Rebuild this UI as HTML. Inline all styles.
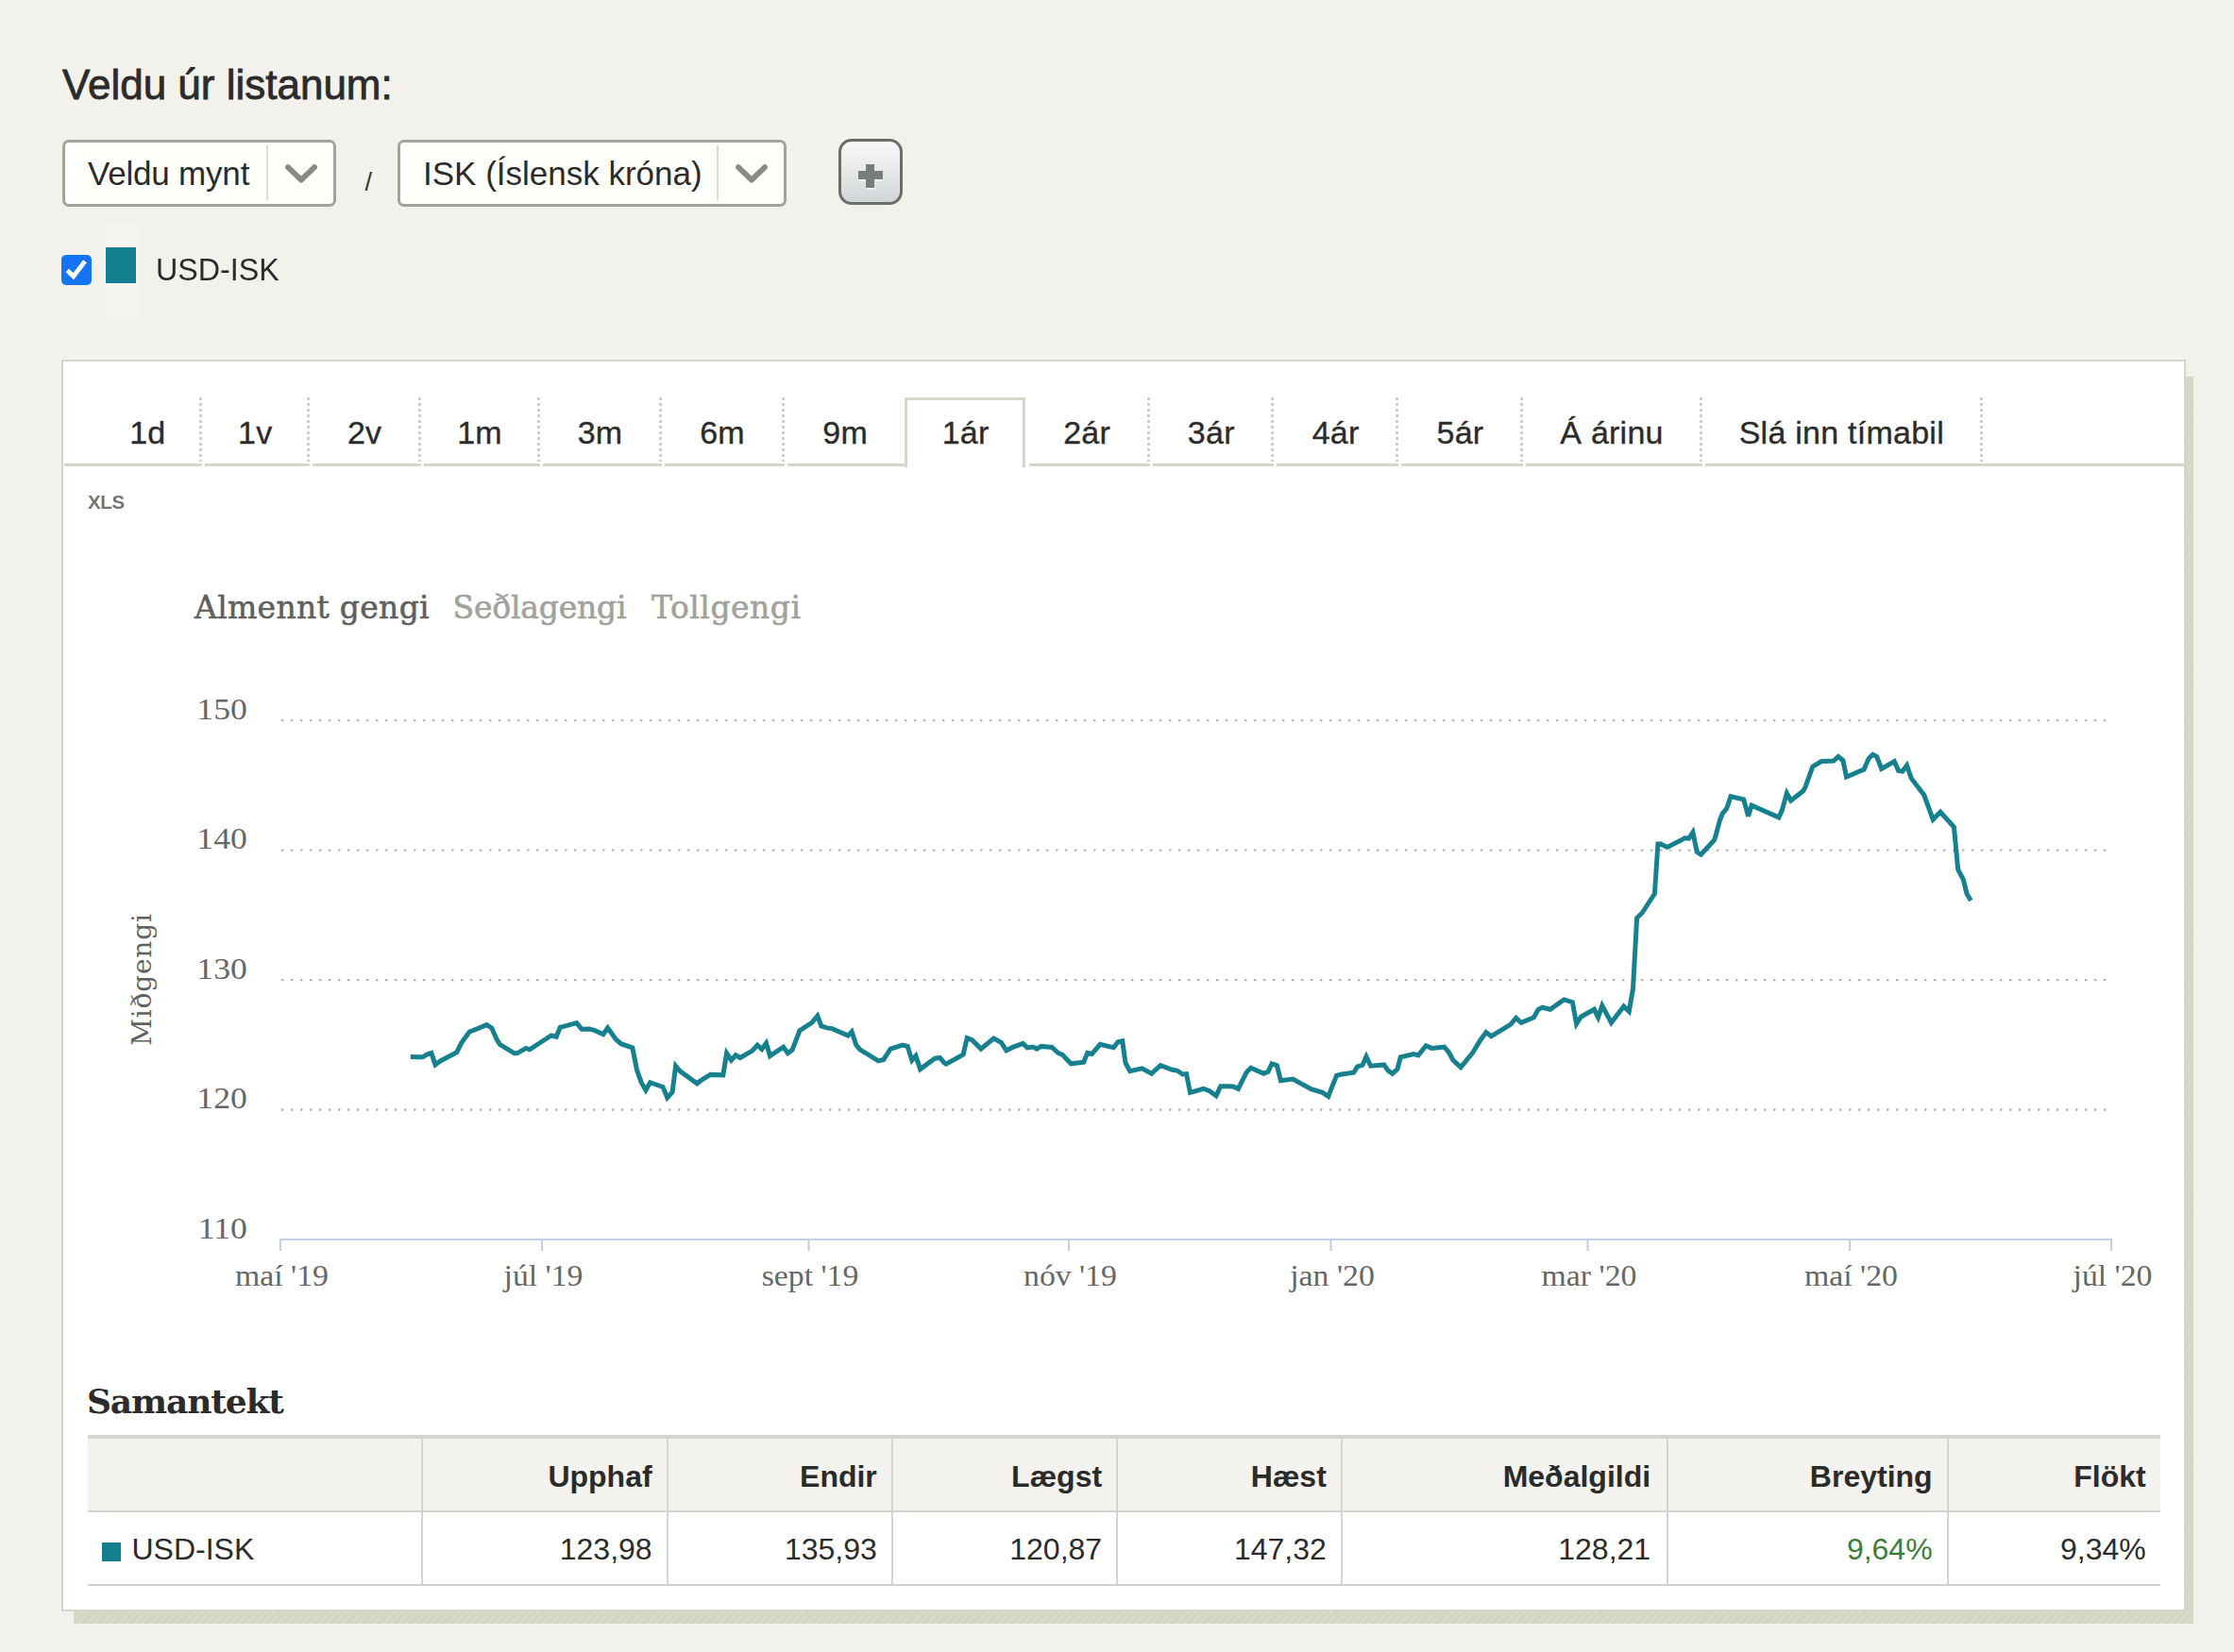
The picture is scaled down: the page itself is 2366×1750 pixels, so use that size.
<!DOCTYPE html>
<html lang="is"><head><meta charset="utf-8"><title>Gengi gjaldmiðla</title>
<style>
html,body{margin:0;padding:0;}
body{width:2366px;height:1750px;overflow:hidden;background:#f2f1ec;position:relative;}
.t{position:absolute;white-space:nowrap;margin:0;}
.b{position:absolute;}
</style></head><body>
<h2 class="t" style="top:67.75px;font-size:44px;line-height:44px;font-family:'Liberation Sans', Arial, sans-serif;font-weight:400;color:#2b2b2b;left:66px;-webkit-text-stroke:0.8px #2b2b2b;">Veldu úr listanum:</h2>
<div class="b" style="left:65.5px;top:147.5px;width:290px;height:71px;box-sizing:border-box;border:3px solid #a3a39b;border-radius:7px;background:#fffffb;"></div>
<div class="b" style="left:282.3px;top:154px;width:2px;height:58px;background:#dcdcd8;"></div>
<div class="t" style="top:166.37px;font-size:35px;line-height:35px;font-family:'Liberation Sans', Arial, sans-serif;font-weight:400;color:#2b2b2b;letter-spacing:-0.2px;left:93px;">Veldu mynt</div>
<div class="b" style="left:420.5px;top:147.5px;width:412px;height:71px;box-sizing:border-box;border:3px solid #a3a39b;border-radius:7px;background:#fffffb;"></div>
<div class="b" style="left:759.2px;top:154px;width:2px;height:58px;background:#dcdcd8;"></div>
<div class="t" style="top:166.37px;font-size:35px;line-height:35px;font-family:'Liberation Sans', Arial, sans-serif;font-weight:400;color:#2b2b2b;left:448px;">ISK (Íslensk króna)</div>
<svg class="b" style="left:299.4px;top:165px" width="40" height="40" viewBox="0 0 40 40"><path d="M6 12.1 L20 25.7 L34 12.1" fill="none" stroke="#8a8985" stroke-width="5.8" stroke-linejoin="round" stroke-linecap="round" style="filter:blur(0.5px)"/></svg>
<svg class="b" style="left:776.2px;top:165px" width="40" height="40" viewBox="0 0 40 40"><path d="M6 12.1 L20 25.7 L34 12.1" fill="none" stroke="#8a8985" stroke-width="5.8" stroke-linejoin="round" stroke-linecap="round" style="filter:blur(0.5px)"/></svg>
<div class="t" style="top:180.14px;font-size:27px;line-height:27px;font-family:'Liberation Sans', Arial, sans-serif;font-weight:400;color:#333;left:386.5px;">/</div>
<div class="b" style="left:888px;top:147px;width:68px;height:70px;box-sizing:border-box;border:3px solid #6c6c68;border-radius:14px;background:linear-gradient(#f6f7f8,#e6e8e9 50%,#d2d5d7);"></div>
<div class="b" style="left:909px;top:181.3px;width:25.5px;height:9px;background:#797c7c;box-shadow:0 1.5px 0 rgba(255,255,255,.85);"></div>
<div class="b" style="left:917.3px;top:173.5px;width:9px;height:25px;background:#797c7c;box-shadow:0 1.5px 0 rgba(255,255,255,.85);"></div>
<svg class="b" style="left:65px;top:270px" width="32" height="32" viewBox="0 0 32 32"><rect x="0" y="0" width="32" height="32" rx="5" fill="#1574f4"/><path d="M6.3 16.4 L12.8 22.6 L25 6.8" fill="none" stroke="#fff" stroke-width="4.8"/></svg>
<div class="b" style="left:112px;top:238px;width:37px;height:98px;background:#f5f4f0;"></div>
<div class="b" style="left:112px;top:262px;width:32px;height:38px;background:#12808f;"></div>
<div class="t" style="top:268.21px;font-size:34px;line-height:34px;font-family:'Liberation Sans', Arial, sans-serif;font-weight:400;color:#2b2b2b;left:164.5px;transform:scaleX(0.948);transform-origin:0 0;">USD-ISK</div>
<div class="b" style="left:78.2px;top:399.3px;width:2244.6px;height:1320.6px;background:repeating-linear-gradient(135deg,#d9d9c7 0 3px,#d4d4c2 3px 6px);"></div>
<div class="b" style="left:65.2px;top:381.2px;width:2249.6px;height:1325.5px;box-sizing:border-box;border-style:solid;border-color:#d4d6ca;border-width:2.6px 2px 2px 2.6px;background:#fff;"></div>
<div class="b" style="left:68px;top:491.2px;width:145.8px;height:3px;background:#d6d6cc;"></div>
<div class="b" style="left:216.8px;top:491.2px;width:111.1px;height:3px;background:#d6d6cc;"></div>
<div class="b" style="left:330.9px;top:491.2px;width:114.8px;height:3px;background:#d6d6cc;"></div>
<div class="b" style="left:448.7px;top:491.2px;width:123.0px;height:3px;background:#d6d6cc;"></div>
<div class="b" style="left:574.7px;top:491.2px;width:126.0px;height:3px;background:#d6d6cc;"></div>
<div class="b" style="left:703.7px;top:491.2px;width:127.1px;height:3px;background:#d6d6cc;"></div>
<div class="b" style="left:833.8px;top:491.2px;width:124.2px;height:3px;background:#d6d6cc;"></div>
<div class="b" style="left:1090px;top:491.2px;width:127.7px;height:3px;background:#d6d6cc;"></div>
<div class="b" style="left:1220.7px;top:491.2px;width:128.5px;height:3px;background:#d6d6cc;"></div>
<div class="b" style="left:1352.2px;top:491.2px;width:129.2px;height:3px;background:#d6d6cc;"></div>
<div class="b" style="left:1484.4px;top:491.2px;width:128.6px;height:3px;background:#d6d6cc;"></div>
<div class="b" style="left:1616.0px;top:491.2px;width:186.5px;height:3px;background:#d6d6cc;"></div>
<div class="b" style="left:1805.5px;top:491.2px;width:507.5px;height:3px;background:#d6d6cc;"></div>
<div class="b" style="left:210.8px;top:421px;width:3px;height:68px;background:repeating-linear-gradient(#cfcfc6 0 3px, transparent 3px 6px);"></div>
<div class="b" style="left:324.9px;top:421px;width:3px;height:68px;background:repeating-linear-gradient(#cfcfc6 0 3px, transparent 3px 6px);"></div>
<div class="b" style="left:442.7px;top:421px;width:3px;height:68px;background:repeating-linear-gradient(#cfcfc6 0 3px, transparent 3px 6px);"></div>
<div class="b" style="left:568.7px;top:421px;width:3px;height:68px;background:repeating-linear-gradient(#cfcfc6 0 3px, transparent 3px 6px);"></div>
<div class="b" style="left:697.7px;top:421px;width:3px;height:68px;background:repeating-linear-gradient(#cfcfc6 0 3px, transparent 3px 6px);"></div>
<div class="b" style="left:827.8px;top:421px;width:3px;height:68px;background:repeating-linear-gradient(#cfcfc6 0 3px, transparent 3px 6px);"></div>
<div class="b" style="left:1214.7px;top:421px;width:3px;height:68px;background:repeating-linear-gradient(#cfcfc6 0 3px, transparent 3px 6px);"></div>
<div class="b" style="left:1346.2px;top:421px;width:3px;height:68px;background:repeating-linear-gradient(#cfcfc6 0 3px, transparent 3px 6px);"></div>
<div class="b" style="left:1478.4px;top:421px;width:3px;height:68px;background:repeating-linear-gradient(#cfcfc6 0 3px, transparent 3px 6px);"></div>
<div class="b" style="left:1610.0px;top:421px;width:3px;height:68px;background:repeating-linear-gradient(#cfcfc6 0 3px, transparent 3px 6px);"></div>
<div class="b" style="left:1799.5px;top:421px;width:3px;height:68px;background:repeating-linear-gradient(#cfcfc6 0 3px, transparent 3px 6px);"></div>
<div class="b" style="left:2096.5px;top:421px;width:3px;height:68px;background:repeating-linear-gradient(#cfcfc6 0 3px, transparent 3px 6px);"></div>
<div class="b" style="left:957.8px;top:420.5px;width:128.2px;height:74px;box-sizing:border-box;border:3px solid #d6d6cc;border-bottom:none;background:#fff;"></div>
<div class="t" style="top:441.21px;font-size:34px;line-height:34px;font-family:'Liberation Sans', Arial, sans-serif;font-weight:400;color:#2b2b2b;letter-spacing:0.25px;left:156.3px;transform:translateX(-50%);-webkit-text-stroke:0.35px #2b2b2b;">1d</div>
<div class="t" style="top:441.21px;font-size:34px;line-height:34px;font-family:'Liberation Sans', Arial, sans-serif;font-weight:400;color:#2b2b2b;letter-spacing:0.25px;left:270.2px;transform:translateX(-50%);-webkit-text-stroke:0.35px #2b2b2b;">1v</div>
<div class="t" style="top:441.21px;font-size:34px;line-height:34px;font-family:'Liberation Sans', Arial, sans-serif;font-weight:400;color:#2b2b2b;letter-spacing:0.25px;left:386.1px;transform:translateX(-50%);-webkit-text-stroke:0.35px #2b2b2b;">2v</div>
<div class="t" style="top:441.21px;font-size:34px;line-height:34px;font-family:'Liberation Sans', Arial, sans-serif;font-weight:400;color:#2b2b2b;letter-spacing:0.25px;left:508.0px;transform:translateX(-50%);-webkit-text-stroke:0.35px #2b2b2b;">1m</div>
<div class="t" style="top:441.21px;font-size:34px;line-height:34px;font-family:'Liberation Sans', Arial, sans-serif;font-weight:400;color:#2b2b2b;letter-spacing:0.25px;left:635.5px;transform:translateX(-50%);-webkit-text-stroke:0.35px #2b2b2b;">3m</div>
<div class="t" style="top:441.21px;font-size:34px;line-height:34px;font-family:'Liberation Sans', Arial, sans-serif;font-weight:400;color:#2b2b2b;letter-spacing:0.25px;left:765.0px;transform:translateX(-50%);-webkit-text-stroke:0.35px #2b2b2b;">6m</div>
<div class="t" style="top:441.21px;font-size:34px;line-height:34px;font-family:'Liberation Sans', Arial, sans-serif;font-weight:400;color:#2b2b2b;letter-spacing:0.25px;left:895.1px;transform:translateX(-50%);-webkit-text-stroke:0.35px #2b2b2b;">9m</div>
<div class="t" style="top:441.21px;font-size:34px;line-height:34px;font-family:'Liberation Sans', Arial, sans-serif;font-weight:400;color:#2b2b2b;letter-spacing:0.25px;left:1022.6px;transform:translateX(-50%);-webkit-text-stroke:0.35px #2b2b2b;">1ár</div>
<div class="t" style="top:441.21px;font-size:34px;line-height:34px;font-family:'Liberation Sans', Arial, sans-serif;font-weight:400;color:#2b2b2b;letter-spacing:0.25px;left:1151.1px;transform:translateX(-50%);-webkit-text-stroke:0.35px #2b2b2b;">2ár</div>
<div class="t" style="top:441.21px;font-size:34px;line-height:34px;font-family:'Liberation Sans', Arial, sans-serif;font-weight:400;color:#2b2b2b;letter-spacing:0.25px;left:1282.8px;transform:translateX(-50%);-webkit-text-stroke:0.35px #2b2b2b;">3ár</div>
<div class="t" style="top:441.21px;font-size:34px;line-height:34px;font-family:'Liberation Sans', Arial, sans-serif;font-weight:400;color:#2b2b2b;letter-spacing:0.25px;left:1414.6px;transform:translateX(-50%);-webkit-text-stroke:0.35px #2b2b2b;">4ár</div>
<div class="t" style="top:441.21px;font-size:34px;line-height:34px;font-family:'Liberation Sans', Arial, sans-serif;font-weight:400;color:#2b2b2b;letter-spacing:0.25px;left:1546.5px;transform:translateX(-50%);-webkit-text-stroke:0.35px #2b2b2b;">5ár</div>
<div class="t" style="top:441.21px;font-size:34px;line-height:34px;font-family:'Liberation Sans', Arial, sans-serif;font-weight:400;color:#2b2b2b;letter-spacing:0.25px;left:1707.0px;transform:translateX(-50%);-webkit-text-stroke:0.35px #2b2b2b;">Á árinu</div>
<div class="t" style="top:441.21px;font-size:34px;line-height:34px;font-family:'Liberation Sans', Arial, sans-serif;font-weight:400;color:#2b2b2b;letter-spacing:0.25px;left:1950.3px;transform:translateX(-50%);-webkit-text-stroke:0.35px #2b2b2b;">Slá inn tímabil</div>
<div class="t" style="top:521.64px;font-size:20.5px;line-height:20.5px;font-family:'Liberation Sans', Arial, sans-serif;font-weight:700;color:#75756e;letter-spacing:-0.3px;left:93px;filter:blur(0.5px);">XLS</div>
<svg class="b" style="left:0;top:0" width="2366" height="1750" viewBox="0 0 2366 1750">
<line x1="298.1" y1="763.2" x2="2236" y2="763.2" stroke="#b3b3b3" stroke-width="2.3" stroke-dasharray="2.3 7.7"/>
<line x1="298.1" y1="900.7" x2="2236" y2="900.7" stroke="#b3b3b3" stroke-width="2.3" stroke-dasharray="2.3 7.7"/>
<line x1="298.1" y1="1038.1" x2="2236" y2="1038.1" stroke="#b3b3b3" stroke-width="2.3" stroke-dasharray="2.3 7.7"/>
<line x1="298.1" y1="1175.5" x2="2236" y2="1175.5" stroke="#b3b3b3" stroke-width="2.3" stroke-dasharray="2.3 7.7"/>
<line x1="296" y1="1313" x2="2237" y2="1313" stroke="#c3d0e3" stroke-width="2.2"/>
<line x1="297" y1="1313" x2="297" y2="1325" stroke="#c3d0e3" stroke-width="2.2"/>
<line x1="574" y1="1313" x2="574" y2="1325" stroke="#c3d0e3" stroke-width="2.2"/>
<line x1="856.5" y1="1313" x2="856.5" y2="1325" stroke="#c3d0e3" stroke-width="2.2"/>
<line x1="1132" y1="1313" x2="1132" y2="1325" stroke="#c3d0e3" stroke-width="2.2"/>
<line x1="1409.5" y1="1313" x2="1409.5" y2="1325" stroke="#c3d0e3" stroke-width="2.2"/>
<line x1="1681.5" y1="1313" x2="1681.5" y2="1325" stroke="#c3d0e3" stroke-width="2.2"/>
<line x1="1959" y1="1313" x2="1959" y2="1325" stroke="#c3d0e3" stroke-width="2.2"/>
<line x1="2236" y1="1313" x2="2236" y2="1325" stroke="#c3d0e3" stroke-width="2.2"/>
<text transform="translate(298.5,1361.6) scale(1.09,1)" text-anchor="middle" font-family="Liberation Serif, serif" font-size="31" fill="#666">maí '19</text>
<text transform="translate(575.5,1361.6) scale(1.09,1)" text-anchor="middle" font-family="Liberation Serif, serif" font-size="31" fill="#666">júl '19</text>
<text transform="translate(858.0,1361.6) scale(1.09,1)" text-anchor="middle" font-family="Liberation Serif, serif" font-size="31" fill="#666">sept '19</text>
<text transform="translate(1133.5,1361.6) scale(1.09,1)" text-anchor="middle" font-family="Liberation Serif, serif" font-size="31" fill="#666">nóv '19</text>
<text transform="translate(1411.0,1361.6) scale(1.09,1)" text-anchor="middle" font-family="Liberation Serif, serif" font-size="31" fill="#666">jan '20</text>
<text transform="translate(1683.0,1361.6) scale(1.09,1)" text-anchor="middle" font-family="Liberation Serif, serif" font-size="31" fill="#666">mar '20</text>
<text transform="translate(1960.5,1361.6) scale(1.09,1)" text-anchor="middle" font-family="Liberation Serif, serif" font-size="31" fill="#666">maí '20</text>
<text transform="translate(2237.5,1361.6) scale(1.09,1)" text-anchor="middle" font-family="Liberation Serif, serif" font-size="31" fill="#666">júl '20</text>
<text transform="translate(261.8,761.7) scale(1.15,1)" text-anchor="end" font-family="Liberation Serif, serif" font-size="31" fill="#666">150</text>
<text transform="translate(261.8,899.2) scale(1.15,1)" text-anchor="end" font-family="Liberation Serif, serif" font-size="31" fill="#666">140</text>
<text transform="translate(261.8,1036.6) scale(1.15,1)" text-anchor="end" font-family="Liberation Serif, serif" font-size="31" fill="#666">130</text>
<text transform="translate(261.8,1174.0) scale(1.15,1)" text-anchor="end" font-family="Liberation Serif, serif" font-size="31" fill="#666">120</text>
<text transform="translate(261.8,1311.5) scale(1.15,1)" text-anchor="end" font-family="Liberation Serif, serif" font-size="31" fill="#666">110</text>
<text transform="translate(159.6,1037.5) rotate(-90)" text-anchor="middle" font-family="DejaVu Serif, serif" font-size="28" letter-spacing="0.8" fill="#616161">Miðgengi</text>
<text x="206" y="654.8" font-family="DejaVu Serif, serif" font-size="33" letter-spacing="0.3" fill="#5f6060" font-weight="400" stroke="#5f6060" stroke-width="0.6">Almennt gengi</text>
<text x="479.5" y="654.8" font-family="DejaVu Serif, serif" font-size="33" letter-spacing="-0.2" fill="#a2a29c" stroke="#a2a29c" stroke-width="0.6">Seðlagengi</text>
<text x="690" y="654.8" font-family="DejaVu Serif, serif" font-size="33" letter-spacing="0.5" fill="#a2a29c" stroke="#a2a29c" stroke-width="0.6">Tollgengi</text>
<path d="M434.8 1119.6 L441.5 1119.8 L447.5 1119.8 L452.2 1117.1 L456.9 1115.4 L461.0 1127.9 L466.3 1123.9 L472.4 1120.8 L483.8 1114.7 L488.5 1105.1 L497.2 1093.0 L505.9 1089.6 L515.3 1085.6 L520.7 1088.9 L526.1 1101.0 L529.4 1106.4 L544.9 1115.8 L547.6 1115.8 L557.0 1110.4 L561.0 1111.8 L574.4 1103.0 L583.8 1097.0 L589.2 1098.3 L593.2 1088.3 L598.6 1086.9 L610.7 1083.6 L616.1 1090.3 L624.1 1090.0 L629.5 1091.4 L638.9 1095.7 L643.6 1088.9 L652.3 1101.0 L657.7 1105.7 L669.8 1109.8 L674.5 1133.3 L679.2 1146.7 L683.9 1154.7 L688.6 1146.7 L702.0 1151.4 L706.7 1162.8 L712.1 1156.8 L715.6 1129.2 L720.1 1134.6 L738.3 1147.8 L743.0 1144.0 L752.4 1138.4 L765.8 1138.9 L769.6 1115.8 L774.5 1123.2 L779.2 1117.8 L783.9 1120.5 L796.7 1113.1 L802.1 1107.1 L806.8 1111.5 L811.5 1105.1 L815.5 1118.5 L829.6 1109.1 L834.3 1115.8 L839.0 1112.4 L847.0 1091.6 L859.8 1083.3 L865.8 1076.2 L869.9 1086.9 L875.9 1088.9 L881.3 1089.6 L898.1 1097.0 L902.1 1093.0 L906.8 1107.1 L910.8 1111.8 L930.3 1123.9 L935.7 1122.5 L943.1 1111.1 L955.8 1107.1 L961.2 1108.4 L965.9 1123.2 L969.9 1118.5 L974.6 1132.6 L990.1 1121.2 L995.4 1120.5 L1000.0 1125.9 L1002.0 1127.2 L1020.1 1117.1 L1024.2 1099.7 L1029.5 1101.7 L1038.9 1111.1 L1052.4 1100.0 L1060.4 1104.4 L1065.8 1112.8 L1072.5 1109.4 L1083.3 1105.3 L1088.0 1109.8 L1094.0 1109.1 L1098.0 1111.1 L1102.7 1108.4 L1114.1 1109.4 L1120.9 1115.5 L1124.9 1117.1 L1134.3 1126.8 L1147.7 1125.2 L1151.7 1115.4 L1156.4 1116.5 L1165.2 1106.4 L1179.3 1109.8 L1184.0 1103.7 L1188.7 1102.8 L1192.0 1125.9 L1196.7 1134.6 L1209.5 1131.9 L1219.6 1137.3 L1229.0 1128.6 L1241.7 1133.3 L1247.1 1134.3 L1252.5 1138.0 L1256.5 1137.6 L1260.5 1157.4 L1274.6 1153.4 L1280.6 1155.4 L1288.0 1160.8 L1292.7 1150.7 L1300.0 1150.7 L1306.0 1151.0 L1311.4 1153.4 L1320.1 1135.9 L1324.8 1131.2 L1338.3 1137.3 L1343.0 1135.3 L1347.0 1126.8 L1352.4 1128.6 L1356.4 1144.7 L1369.2 1143.1 L1388.6 1153.7 L1400.7 1157.4 L1406.8 1161.5 L1415.5 1139.3 L1420.9 1138.0 L1433.6 1136.3 L1437.6 1129.9 L1443.0 1128.3 L1447.0 1119.2 L1451.7 1129.2 L1465.8 1127.9 L1469.9 1133.9 L1474.6 1137.3 L1479.9 1132.6 L1483.3 1119.8 L1497.4 1116.5 L1502.1 1117.8 L1510.2 1107.7 L1516.2 1110.4 L1529.6 1109.1 L1534.3 1114.5 L1539.0 1123.2 L1547.1 1130.6 L1559.8 1115.1 L1567.9 1101.7 L1573.9 1093.6 L1579.3 1097.7 L1592.7 1089.6 L1600.0 1085.0 L1605.6 1078.4 L1611.1 1083.3 L1624.4 1077.7 L1629.2 1069.3 L1633.4 1067.2 L1641.8 1069.3 L1656.4 1058.9 L1665.4 1061.7 L1669.6 1084.6 L1674.5 1077.0 L1688.4 1069.3 L1692.6 1077.7 L1696.8 1065.2 L1706.5 1083.3 L1719.7 1065.9 L1725.3 1071.4 L1729.5 1047.1 L1733.6 972.6 L1739.2 967.0 L1752.4 946.8 L1755.9 893.9 L1758.7 893.9 L1765.7 897.4 L1780.0 890.3 L1784.3 887.7 L1788.6 888.1 L1792.9 881.7 L1797.2 902.5 L1801.5 905.3 L1815.8 889.6 L1821.5 868.8 L1824.4 861.6 L1828.7 856.6 L1833.0 843.7 L1846.6 846.9 L1851.6 864.5 L1855.2 853.1 L1883.9 865.9 L1887.4 858.1 L1892.4 840.2 L1896.7 848.0 L1909.6 838.0 L1911.8 834.4 L1919.7 812.2 L1929.0 806.5 L1941.9 806.1 L1946.9 801.5 L1951.9 805.5 L1955.5 823.0 L1974.1 815.1 L1979.1 803.6 L1983.4 799.3 L1987.7 801.5 L1992.7 814.4 L2006.3 806.5 L2010.6 816.5 L2014.9 817.0 L2019.5 810.8 L2024.2 824.4 L2037.8 842.3 L2047.2 868.1 L2055.0 860.2 L2069.4 876.0 L2073.7 921.1 L2079.4 931.8 L2083.0 946.9 L2087.3 954.0" fill="none" stroke="#16808f" stroke-width="5" stroke-linejoin="miter" stroke-miterlimit="3" stroke-linecap="butt"/>
</svg>
<h3 class="t" style="top:1466.04px;font-size:36px;line-height:36px;font-family:'DejaVu Serif', serif;font-weight:700;color:#2b2b2b;letter-spacing:-1.15px;left:92px;">Samantekt</h3>
<div class="b" style="left:93px;top:1519.6px;width:2195px;height:4px;background:#d4d4cc;"></div>
<div class="b" style="left:93px;top:1523.6px;width:2195px;height:77px;background:#f3f2ee;"></div>
<div class="b" style="left:93px;top:1600.4px;width:2195px;height:2px;background:#d4d4cc;"></div>
<div class="b" style="left:93px;top:1678px;width:2195px;height:2.2px;background:#cfcfcf;"></div>
<div class="b" style="left:446px;top:1523.6px;width:2px;height:154.4px;background:#d4d4d0;"></div>
<div class="b" style="left:706px;top:1523.6px;width:2px;height:154.4px;background:#d4d4d0;"></div>
<div class="b" style="left:944px;top:1523.6px;width:2px;height:154.4px;background:#d4d4d0;"></div>
<div class="b" style="left:1182px;top:1523.6px;width:2px;height:154.4px;background:#d4d4d0;"></div>
<div class="b" style="left:1420px;top:1523.6px;width:2px;height:154.4px;background:#d4d4d0;"></div>
<div class="b" style="left:1765px;top:1523.6px;width:2px;height:154.4px;background:#d4d4d0;"></div>
<div class="b" style="left:2062px;top:1523.6px;width:2px;height:154.4px;background:#d4d4d0;"></div>
<div class="t" style="top:1547.51px;font-size:32px;line-height:32px;font-family:'Liberation Sans', Arial, sans-serif;font-weight:700;color:#2b2b2b;right:1675.4px;">Upphaf</div>
<div class="t" style="top:1625.41px;font-size:32px;line-height:32px;font-family:'Liberation Sans', Arial, sans-serif;font-weight:400;color:#2b2b2b;right:1675.4px;">123,98</div>
<div class="t" style="top:1547.51px;font-size:32px;line-height:32px;font-family:'Liberation Sans', Arial, sans-serif;font-weight:700;color:#2b2b2b;right:1437.2px;">Endir</div>
<div class="t" style="top:1625.41px;font-size:32px;line-height:32px;font-family:'Liberation Sans', Arial, sans-serif;font-weight:400;color:#2b2b2b;right:1437.2px;">135,93</div>
<div class="t" style="top:1547.51px;font-size:32px;line-height:32px;font-family:'Liberation Sans', Arial, sans-serif;font-weight:700;color:#2b2b2b;right:1198.9px;">Lægst</div>
<div class="t" style="top:1625.41px;font-size:32px;line-height:32px;font-family:'Liberation Sans', Arial, sans-serif;font-weight:400;color:#2b2b2b;right:1198.9px;">120,87</div>
<div class="t" style="top:1547.51px;font-size:32px;line-height:32px;font-family:'Liberation Sans', Arial, sans-serif;font-weight:700;color:#2b2b2b;right:961.2px;">Hæst</div>
<div class="t" style="top:1625.41px;font-size:32px;line-height:32px;font-family:'Liberation Sans', Arial, sans-serif;font-weight:400;color:#2b2b2b;right:961.2px;">147,32</div>
<div class="t" style="top:1547.51px;font-size:32px;line-height:32px;font-family:'Liberation Sans', Arial, sans-serif;font-weight:700;color:#2b2b2b;right:617.9000000000001px;">Meðalgildi</div>
<div class="t" style="top:1625.41px;font-size:32px;line-height:32px;font-family:'Liberation Sans', Arial, sans-serif;font-weight:400;color:#2b2b2b;right:617.9000000000001px;">128,21</div>
<div class="t" style="top:1547.51px;font-size:32px;line-height:32px;font-family:'Liberation Sans', Arial, sans-serif;font-weight:700;color:#2b2b2b;right:319.4000000000001px;">Breyting</div>
<div class="t" style="top:1625.41px;font-size:32px;line-height:32px;font-family:'Liberation Sans', Arial, sans-serif;font-weight:400;color:#3c7d3c;right:319.4000000000001px;">9,64%</div>
<div class="t" style="top:1547.51px;font-size:32px;line-height:32px;font-family:'Liberation Sans', Arial, sans-serif;font-weight:700;color:#2b2b2b;right:93.30000000000018px;">Flökt</div>
<div class="t" style="top:1625.41px;font-size:32px;line-height:32px;font-family:'Liberation Sans', Arial, sans-serif;font-weight:400;color:#2b2b2b;right:93.30000000000018px;">9,34%</div>
<div class="b" style="left:108px;top:1634px;width:20px;height:20px;background:#14808f;"></div>
<div class="t" style="top:1625.41px;font-size:32px;line-height:32px;font-family:'Liberation Sans', Arial, sans-serif;font-weight:400;color:#2b2b2b;left:139.5px;">USD-ISK</div>
</body></html>
